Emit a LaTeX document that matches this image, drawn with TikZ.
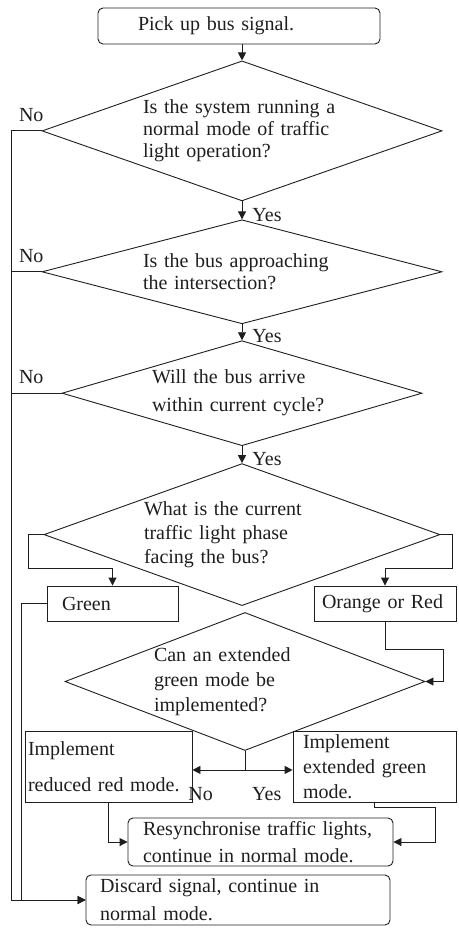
\documentclass[tikz,border=0pt]{standalone}
\usepackage{fontspec}
\setmainfont{Liberation Serif}
\usetikzlibrary{arrows.meta,positioning,shapes.geometric}
\definecolor{ink}{HTML}{1E1E1E}

\begin{document}
\begin{tikzpicture}[
  x=1pt, y=-1pt,
  font=\fontsize{20}{22}\selectfont,
  box/.style={draw=ink, line width=0.9pt, align=left, inner ysep=0pt, text=ink},
  rbox/.style={box, rounded corners=5pt},
  ask/.style={draw=ink, line width=0.9pt, diamond, inner sep=0pt, align=left, text=ink},
  arrow/.style={-{Triangle[length=8pt, width=8pt]}, line width=0.9pt, color=ink},
  link/.style={line width=0.9pt, color=ink},
  nolbl/.style={anchor=south west, inner sep=2pt, xshift=5pt, yshift=7pt, text=ink},
  yeslbl/.style={anchor=south west, inner sep=1pt, xshift=9pt, yshift=-4pt, text=ink}
]
\useasboundingbox (0,0) rectangle (458,928);
\node[rbox, text width=202pt, inner xsep=40pt, minimum height=36pt] (pick) at (239,26) {Pick up bus signal.};
\node[ask, below=16pt of pick, xshift=3pt, minimum width=400pt, minimum height=140pt, aspect=2.86, text width=198pt] (normal) {Is the system running a\\ normal mode of traffic\\ light operation?};
\node[ask, below=18pt of normal, minimum width=400pt, minimum height=104pt, aspect=3.85, text width=198pt] (approach) {Is the bus approaching\\ the intersection?};
\node[ask, below=16pt of approach, minimum width=360pt, minimum height=105pt, aspect=3.43, text width=180pt] (arrive) {Will the bus arrive\\[6pt] within current cycle?};
\node[ask, below=17pt of arrive, minimum width=396pt, minimum height=142pt, aspect=2.79, text width=196pt] (phase) {What is the current\\[2pt] traffic light phase\\[2pt] facing the bus?};
\node[ask, below=6pt of phase, xshift=3pt, minimum width=360pt, minimum height=138pt, aspect=2.61, text width=182pt] (extend) {Can an extended\\[3pt] green mode be\\[3pt] implemented?};

\node[box, text width=101pt, inner xsep=15pt, minimum height=35pt] (green) at (112.5,603.5) {Green};
\node[box, text width=126pt, inner xsep=8pt, minimum height=35pt] (orange) at (385,603.5) {Orange or Red};
\node[box, text width=161pt, inner xsep=3pt, minimum height=71pt] (reduced) at (108.5,766.5) {Implement\\[14pt] reduced red mode.};
\node[box, text width=143pt, inner xsep=10pt, minimum height=71pt] (extended) at (374.5,766.5) {Implement\\[3pt] extended green\\[3pt] mode.};
\node[rbox, text width=235pt, inner xsep=15pt, minimum height=48pt] (resync) at (260.5,842) {Resynchronise traffic lights,\\[5pt] continue in normal mode.};
\node[rbox, text width=276pt, inner xsep=14pt, minimum height=50pt] (discard) at (238,900) {Discard signal, continue in\\[6pt] normal mode.};

\draw[arrow] (pick.south -| normal.north) -- (normal.north);
\draw[arrow] (normal.south) -- (approach.north) node[yeslbl] (yes1) {Yes};
\draw[arrow] (approach.south) -- (arrive.north) node[yeslbl] (yes2) {Yes};
\draw[arrow] (arrive.south) -- (phase.north) node[yeslbl] (yes3) {Yes};

\draw[arrow] (normal.west) -- ++(-30,0) coordinate (lft) node[nolbl] (no1) {No} |- (discard.west);
\draw[link] (approach.west) -- (approach.west -| lft) node[nolbl] (no2) {No};
\draw[link] (arrive.west) -- (arrive.west -| lft) node[nolbl] (no3) {No};

\draw[arrow] (phase.west) -- ++(-15,0) -- ++(0,34) -| (green.north);
\draw[arrow] (phase.east) -- ++(12,0) -- ++(0,34) -| (orange.north);
\draw[arrow] (green.west) -- ++(-25,0) |- (discard.west);
\draw[arrow] (orange.south) -- ++(0,28) -| ([xshift=18pt]extend.east) -- (extend.east);

\draw[link] (extend.south) -- ++(0,19) coordinate (split);
\draw[arrow] (split) -- (split -| reduced.east);
\draw[arrow] (split) -- (split -| extended.west);
\node[anchor=base east, inner sep=0pt, text=ink] (nosplit) at ([xshift=-32pt, yshift=-31pt]split) {No};
\node[anchor=base west, inner sep=0pt, text=ink] (yessplit) at ([xshift=7pt, yshift=-31pt]split) {Yes};

\draw[arrow] (reduced.south) |- (resync.west);
\draw[arrow] (extended.south) -- ++(0,5) -| ([xshift=42pt]resync.east) -- (resync.east);
\end{tikzpicture}
\end{document}
